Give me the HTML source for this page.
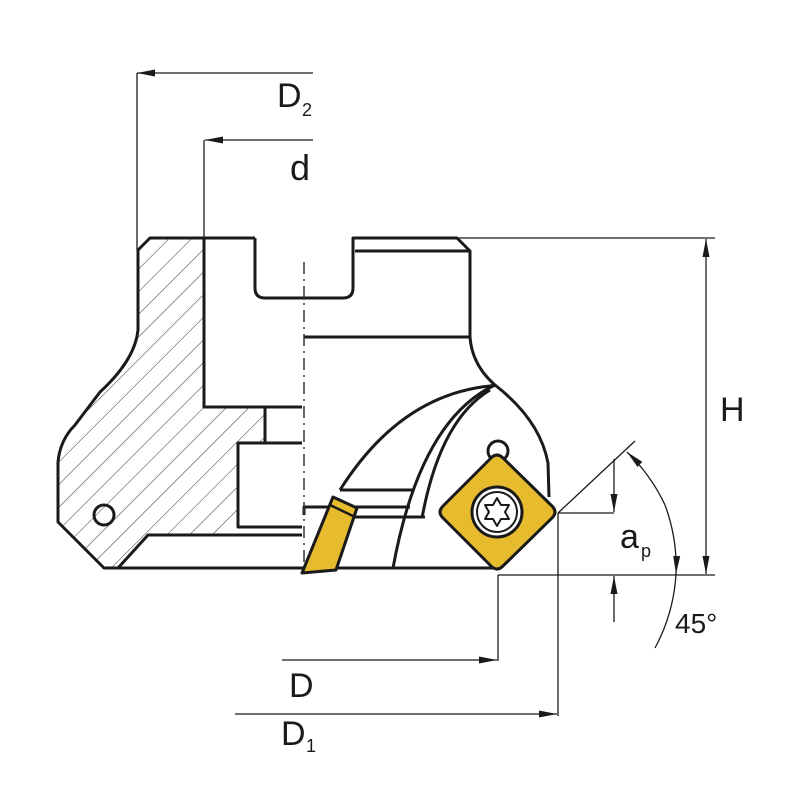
<!DOCTYPE html>
<html><head><meta charset="utf-8"><style>
html,body{margin:0;padding:0;background:#fff;}
svg{display:block;}
text{font-family:"Liberation Sans",sans-serif;fill:#1a1a1a;}
</style></head><body>
<svg width="800" height="800" viewBox="0 0 800 800" xmlns="http://www.w3.org/2000/svg">
<defs>
<pattern id="h" patternUnits="userSpaceOnUse" width="16" height="16" patternTransform="rotate(45)">
<line x1="0" y1="0" x2="0" y2="16" stroke="#333" stroke-width="1"/>
</pattern>
<marker id="a" markerWidth="18" markerHeight="9" refX="18" refY="4.5" orient="auto" markerUnits="userSpaceOnUse">
<path d="M0,1 L18,4.5 L0,8 Z" fill="#1a1a1a"/>
</marker>
</defs>
<path d="M150,238 L204,238 L204,407 L265,407 L265,443 L238,443 L238,527 L232,535 L148,535 L118,568 L104,568 L58,522 L58,462 Q60,440 75,425 L100,392 Q135,360 138,330 L138,250 Z" fill="url(#h)"/>
<g fill="none" stroke="#1a1a1a" stroke-width="3" stroke-linejoin="round">
<path d="M255,238 L150,238 L138,250 L138,330 Q135,360 100,392 L75,425 Q60,440 58,462 L58,522 L104,568 L500,568"/>
<path d="M204,238 L204,407 L302,407"/>
<path d="M265,407 L265,443"/>
<path d="M302,443 L238,443 L238,527 L302,527"/>
<path d="M302,535 L148,535 L118,568"/>
<path d="M255,238 L255,288 Q255,298 265,298 L343,298 Q353,298 353,288 L353,238 L457,238 L470,251 L470,337 Q472,365 495,385 Q540,420 548,463 L549,497"/>
<path d="M355,251 L470,251"/>
<path d="M304,337 L470,337"/>
<path d="M340,490 Q400,395 490,386 L495,385"/>
<path d="M495,385 Q420,420 393,568"/>
<path d="M490,390 Q440,420 422,518"/>
<path d="M340,490 L413,490"/>
<path d="M304,515 L304,507 L410,507"/>
<path d="M355,517 L425,517"/>
<circle cx="104" cy="515" r="10"/>
<circle cx="498" cy="451" r="10" fill="#fff"/>
</g>
<line x1="304" y1="262" x2="304" y2="565" stroke="#333" stroke-width="1.5" stroke-dasharray="12,5,2,5"/>
<path d="M333,497 L357,508 L336,570 L302,573 Z" fill="#e6bc2e" stroke="#1a1a1a" stroke-width="3" stroke-linejoin="round"/>
<path d="M330,505 L353,516" stroke="#1a1a1a" stroke-width="2.5"/>
<path d="M491,458 Q497,452 503,458 L552,506 Q558,512 552,518 L503,566 Q497,572 491,566 L443,518 Q437,512 443,506 Z" fill="#e6bc2e" stroke="#1a1a1a" stroke-width="3" stroke-linejoin="round"/>
<circle cx="497" cy="512" r="25" fill="#fff" stroke="#1a1a1a" stroke-width="3"/>
<circle cx="497" cy="512" r="20" fill="none" stroke="#1a1a1a" stroke-width="2"/>
<path d="M497,498 L501,505 L509,505 L505,512 L509,519 L501,519 L497,526 L493,519 L485,519 L489,512 L485,505 L493,505 Z" fill="#fff" stroke="#1a1a1a" stroke-width="2" stroke-linejoin="round"/>
<g stroke="#1a1a1a" stroke-width="1.3" fill="none">
<line x1="313" y1="73" x2="137" y2="73" marker-end="url(#a)"/>
<line x1="137" y1="73" x2="137" y2="250"/>
<line x1="313" y1="140" x2="205" y2="140" marker-end="url(#a)"/>
<line x1="204" y1="140" x2="204" y2="238"/>
<line x1="457" y1="238" x2="715" y2="238"/>
<line x1="498" y1="575" x2="715" y2="575"/>
<line x1="706" y1="406" x2="706" y2="239" marker-end="url(#a)"/>
<line x1="706" y1="406" x2="706" y2="574" marker-end="url(#a)"/>
<line x1="558" y1="513" x2="614" y2="513"/>
<line x1="558" y1="513" x2="635" y2="441"/>
<line x1="614" y1="459" x2="614" y2="512" marker-end="url(#a)"/>
<line x1="614" y1="622" x2="614" y2="576" marker-end="url(#a)"/>
<path d="M665,505 A178,178 0 0 1 676,574" marker-end="url(#a)"/>
<path d="M665,505 A178,178 0 0 0 627,452" marker-end="url(#a)"/>
<path d="M676,574 A178,178 0 0 1 655,648"/>
<line x1="498" y1="575" x2="498" y2="661"/>
<line x1="282" y1="660" x2="497" y2="660" marker-end="url(#a)"/>
<line x1="558" y1="513" x2="558" y2="716"/>
<line x1="235" y1="714" x2="557" y2="714" marker-end="url(#a)"/>
</g>
<text x="277" y="107" font-size="34">D</text><text x="302" y="116" font-size="18">2</text>
<text x="290" y="180" font-size="36">d</text>
<text x="720" y="421" font-size="34">H</text>
<text x="620" y="548" font-size="34">a</text><text x="641" y="557" font-size="18">p</text>
<text x="675" y="633" font-size="28">45°</text>
<text x="289" y="697" font-size="34">D</text>
<text x="281" y="745" font-size="34">D</text><text x="306" y="752" font-size="18">1</text>
</svg>
</body></html>
